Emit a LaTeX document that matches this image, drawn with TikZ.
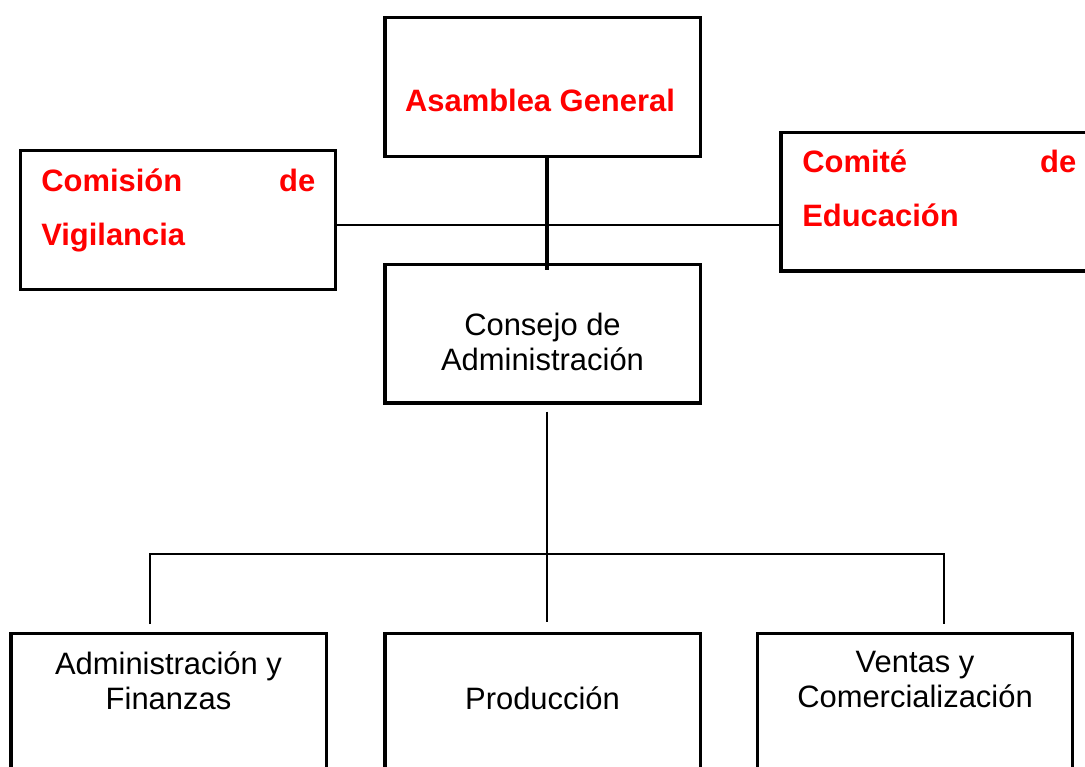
\documentclass[tikz,border=0pt]{standalone}
\usepackage{fontspec}
\setmainfont{Liberation Sans}
\usetikzlibrary{calc}
\definecolor{rojo}{RGB}{255,0,0}
\tikzset{
   caja/.style={draw, line width=2.6pt, minimum width=236.6pt, minimum height=103.9pt, inner sep=0pt},
   enlace/.style={draw, line width=1.4pt},
   rojotxt/.style={text=rojo, inner sep=0pt, font=\bfseries\fontsize{23.2}{40.5}\selectfont},
   negrotxt/.style={inner sep=0pt, align=center, font=\fontsize{23.2}{26.25}\selectfont}
}
\begin{document}
\begin{tikzpicture}[x=0.75pt, y=-0.75pt]
   \useasboundingbox (0,0) rectangle (1085,767);
   \clip (0,0) rectangle (1085,767);
   \def\tw{205.5pt};
   \node[caja] (asamblea) at (542.5,87) {};     % top box
   \node[caja] (vigilancia) at (178,220) {};    % left box
   \node[caja] (educacion) at (938.5,201.5) {}; % right box, cut at the edge
   \node[caja] (consejo) at (542.5,333.5) {};
   \node[caja] (finanzas) at (168.5,703) {};    % bottom row, cut at the edge
   \node[caja] (produccion) at (542.5,703) {};
   \node[caja] (ventas) at (915,703) {};
   \node[rojotxt, anchor=base] (tasamblea) at (540,112) {Asamblea General};
   \node[rojotxt, anchor=base west, text width=\tw, align=left] (tvigilancia) at (41,191) {Comisión\hfill de\\Vigilancia};
   \node[rojotxt, anchor=base west, text width=\tw, align=left] (teducacion) at (802,172) {Comité\hfill de\\Educación};
   \node[negrotxt, anchor=base] (tconsejo) at (542.5,370) {Consejo de\\Administración};
   \node[negrotxt, anchor=base] (tfinanzas) at (168.5,709) {Administración y\\Finanzas};
   \node[negrotxt, anchor=base] (tproduccion) at (542.5,709) {Producción};
   \node[negrotxt, anchor=base] (tventas) at (915,707) {Ventas y\\Comercialización};
   \coordinate (eje) at (547,0);    % vertical axis
   \coordinate (linea) at (0,225);  % side line
   \coordinate (bus) at (0,554);    % bottom bus
   \draw[line width=3pt] (asamblea.south -| eje) -- ($(consejo.north -| eje)+(0,7)$);
   \draw[line width=1pt] (vigilancia.east |- linea) -- (educacion.west |- linea);
   \draw[enlace] ($(consejo.south -| eje)+(0,7)$) -- ($(produccion.north -| eje)+(0,-10)$);
   \draw[enlace] ($(finanzas.north)+(-18.5,-8)$) -- ($(finanzas.north |- bus)+(-18.5,0)$) -- ($(ventas.north |- bus)+(29,0)$) -- ($(ventas.north)+(29,-8)$);
\end{tikzpicture}
\end{document}
